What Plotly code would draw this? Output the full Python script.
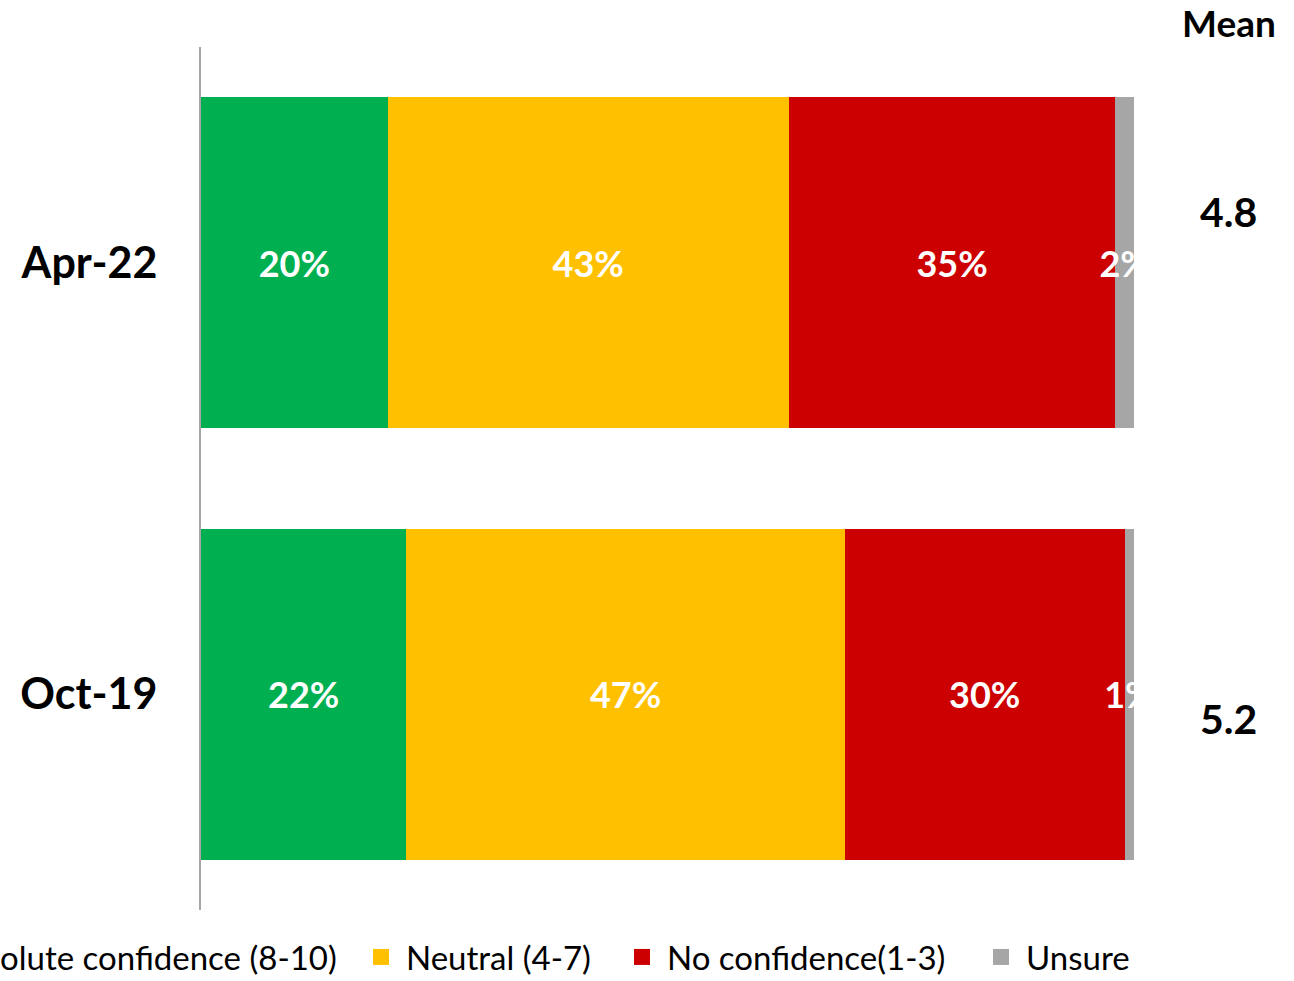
import plotly.graph_objects as go

categories = ["Apr-22", "Oct-19"]
series_names = ["Absolute confidence (8-10)", "Neutral (4-7)", "No confidence(1-3)", "Unsure"]
absolute = [20, 22]
neutral = [43, 47]
no_conf = [35, 30]
unsure = [2, 1]
means = [4.8, 5.2]
mean_header = "Mean"

colors = ["#00B050", "#FFC000", "#CC0000", "#A6A6A6"]
FONT = "Lato"

# one legend per item so that the row is laid out like the original (no wrapping)
legend_ids = ["legend", "legend2", "legend3", "legend4"]
legend_left_px = [-105, 356, 617, 976]

PLOT_L, PLOT_W = 201, 933

fig = go.Figure()
for name, vals, col, lid in zip(series_names, [absolute, neutral, no_conf, unsure], colors, legend_ids):
    fig.add_trace(go.Bar(
        y=categories, x=vals, name=name, orientation="h",
        marker=dict(color=col, line=dict(width=0)),
        text=[f"{v}%" for v in vals],
        textposition="inside", insidetextanchor="middle",
        textangle=0, constraintext="none", cliponaxis=True,
        textfont=dict(family=FONT, size=36, color="white", weight="bold"),
        showlegend=False, hoverinfo="skip",
    ))
    fig.add_trace(go.Scatter(
        x=[None], y=[None], mode="markers", name=name,
        marker=dict(symbol="square", size=20, color=col),
        showlegend=True, legend=lid,
    ))

fig.add_annotation(text=f"<b>{mean_header}</b>", xref="paper", yref="paper",
                   x=1.1018, y=1.028, showarrow=False,
                   font=dict(family=FONT, size=37, color="black"),
                   xanchor="center", yanchor="middle")
shifts = [51, -24]
for cat, m, s in zip(categories, means, shifts):
    fig.add_annotation(text=f"<b>{m:.1f}</b>", xref="paper", yref="y",
                       x=1.1008, y=cat, yshift=s, showarrow=False,
                       font=dict(family=FONT, size=41, color="black"),
                       xanchor="center", yanchor="middle")

legend_common = dict(
    orientation="h", xref="paper", xanchor="left",
    yref="container", y=(981 - 957) / 981, yanchor="middle",
    font=dict(family=FONT, size=33, color="black"),
    itemwidth=40, bgcolor="rgba(0,0,0,0)", itemsizing="trace",
)
legends = {lid: dict(legend_common, x=(px - PLOT_L) / PLOT_W)
           for lid, px in zip(legend_ids, legend_left_px)}

fig.update_layout(
    barmode="stack",
    bargap=0.233,
    width=1294, height=981,
    margin=dict(l=PLOT_L, r=1294 - PLOT_L - PLOT_W, t=47, b=71, autoexpand=False),
    paper_bgcolor="white", plot_bgcolor="white",
    font=dict(family=FONT, color="black"),
    showlegend=True,
    xaxis=dict(range=[0, 100], visible=False, fixedrange=True),
    yaxis=dict(
        categoryorder="array", categoryarray=categories[::-1],
        showline=True, linecolor="#A6A6A6", linewidth=2,
        showgrid=False, zeroline=False, ticks="",
        ticklabelstandoff=33,
        tickfont=dict(family=FONT, size=43, color="black", weight="bold"),
        range=[-0.5, 1.5],
    ),
    **legends,
)

fig.write_html("out.html")
